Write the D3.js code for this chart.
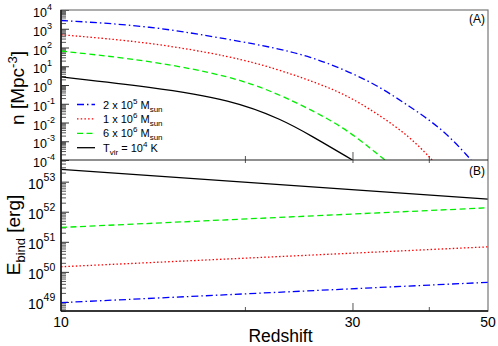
<!DOCTYPE html>
<html lang="en">
<head>
<meta charset="UTF-8" />
<title>Halo abundance and binding energy</title>
<script src="https://cdn.jsdelivr.net/npm/d3@7"></script>
<style>
  body { margin: 0; background: #fff; }
  svg { display: block; font-family: "Liberation Sans", Arial, sans-serif; }
</style>
</head>
<body>
<svg width="498" height="346"></svg>
<script>
// panel A: number density n [Mpc^-3] against redshift
const zBlue = [10, 14, 19.1, 22.5, 25.6, 29, 32.9, 37.3, 42.3, 46.7, 46.9];
const nBlue = [2.75e3, 1.45e3, 2.5e2, 94, 32, 6.9, 1.0, 6.9e-2, 4.0e-3, 1.2e-4, 1.0e-4];
const zRed = [10, 14, 19.1, 22.5, 25.6, 29, 32.9, 37.3, 40.5];
const nRed = [4.8e2, 1.9e2, 32, 7.3, 1.7, 0.36, 3.1e-2, 1.7e-3, 1.0e-4];
const zGreen = [10, 14, 19.1, 22.5, 25.6, 29, 32.1, 33.9];
const nGreen = [65, 20, 2.8, 0.37, 5.0e-2, 5.5e-3, 4.2e-4, 1.0e-4];
const zBlack = [10, 14, 19.1, 23.1, 25.6, 30];
const nBlack = [2.7, 0.81, 0.16, 1.35e-2, 2.1e-3, 1.0e-4];

// panel B: binding energy [erg], straight lines in log-log
const zBind = [10, 50];
const eBlue = [9.5e48, 4.5e49];
const eRed = [1.48e50, 6.8e50];
const eGreen = [3.0e51, 1.35e52];
const eBlack = [2.57e53, 2.63e52];

// tick labels
const expN = [-4, -3, -2, -1, 0, 1, 2, 3, 4];
const expE = [49, 50, 51, 52, 53];
const zLabels = [10, 30, 50];
const zMinor = [20, 40];

// legend text pieces
const legendText = [
  ["2 x 10", "5", " M", "sun"],
  ["1 x 10", "6", " M", "sun"],
  ["6 x 10", "6", " M", "sun"],
  ["T", "vir", " = 10", "4", " K"]
];

const svg = d3.select("svg");
const xLeft = 61, xRight = 488, yTop = 10, yMid = 160, yBottom = 311;

const x = d3.scaleLog().domain([10, 50]).range([xLeft, xRight]);
const yN = d3.scaleLog().domain([1e-4, 1e4]).range([yMid, yTop]);
const yE = d3.scaleLog().domain([5.0e48, 5.25e53]).range([yBottom, yMid]);

const series = [
  { z: zBlue, n: nBlue, e: eBlue, color: "#0000ff", dash: "7,3,1.5,3" },
  { z: zRed, n: nRed, e: eRed, color: "#ff0000", dash: "1.5,2.2" },
  { z: zGreen, n: nGreen, e: eGreen, color: "#00ee00", dash: "6,3.5" },
  { z: zBlack, n: nBlack, e: eBlack, color: "#000000", dash: null }
];

const defs = svg.append("defs");
defs.append("clipPath").attr("id", "clipA").append("rect")
  .attr("x", xLeft).attr("y", yTop).attr("width", xRight - xLeft).attr("height", yMid - yTop);
defs.append("clipPath").attr("id", "clipB").append("rect")
  .attr("x", xLeft).attr("y", yMid).attr("width", xRight - xLeft).attr("height", yBottom - yMid);

// y ticks (inward)
function yTicks(scale, exps) {
  const majors = exps.map(e => Math.pow(10, e));
  const minors = scale.ticks(20).filter(v => !majors.some(m => Math.abs(v / m - 1) < 1e-9));
  svg.append("g").attr("transform", `translate(${xLeft},0)`)
    .call(d3.axisLeft(scale).tickValues(minors).tickSize(-5).tickFormat(""))
    .call(g => g.select(".domain").remove())
    .selectAll("line").attr("stroke", "#555");
  svg.append("g").attr("transform", `translate(${xLeft},0)`)
    .call(d3.axisLeft(scale).tickValues(majors).tickSize(-8).tickFormat(""))
    .call(g => g.select(".domain").remove())
    .selectAll("line").attr("stroke", "#333");
}
yTicks(yN, expN);
yTicks(yE, expE);

// x ticks on each panel edge
function xTicks(axis, y, size) {
  svg.append("g").attr("transform", `translate(0,${y})`)
    .call(axis.tickSize(size).tickFormat(""))
    .call(g => g.select(".domain").remove())
    .selectAll("line").attr("stroke", "#555");
}
xTicks(d3.axisBottom(x).tickValues([30]), yMid, -8);
xTicks(d3.axisBottom(x).tickValues(zMinor), yMid, -4);
xTicks(d3.axisTop(x).tickValues(zMinor.concat([30])), yMid, -3);
xTicks(d3.axisBottom(x).tickValues([30]), yBottom, -8);
xTicks(d3.axisBottom(x).tickValues(zMinor), yBottom, -4);

// curves
const lineN = d3.line().x(d => x(d[0])).y(d => yN(d[1])).curve(d3.curveBasis);
const lineE = d3.line().x(d => x(d[0])).y(d => yE(d[1]));

svg.append("g").attr("clip-path", "url(#clipA)")
  .selectAll("path").data(series).join("path")
  .attr("d", s => lineN(s.z.map((z, i) => [z, s.n[i]])))
  .attr("fill", "none").attr("stroke", s => s.color).attr("stroke-width", 1.3)
  .attr("stroke-dasharray", s => s.dash);

svg.append("g").attr("clip-path", "url(#clipB)")
  .selectAll("path").data(series).join("path")
  .attr("d", s => lineE(zBind.map((z, i) => [z, s.e[i]])))
  .attr("fill", "none").attr("stroke", s => s.color).attr("stroke-width", 1.3)
  .attr("stroke-dasharray", s => s.dash);

// frame
svg.append("rect").attr("x", xLeft).attr("y", yTop)
  .attr("width", xRight - xLeft).attr("height", yBottom - yTop)
  .attr("fill", "none").attr("stroke", "#777").attr("stroke-width", 1.2);
svg.append("line").attr("x1", xLeft).attr("x2", xRight).attr("y1", yMid).attr("y2", yMid)
  .attr("stroke", "#222").attr("stroke-width", 1.2);
svg.append("line").attr("x1", xLeft).attr("x2", xRight).attr("y1", yBottom).attr("y2", yBottom)
  .attr("stroke", "#111").attr("stroke-width", 1.5);
svg.append("line").attr("x1", xLeft).attr("x2", xLeft).attr("y1", yTop).attr("y2", yBottom)
  .attr("stroke", "#111").attr("stroke-width", 1.5);

// power-of-ten labels, left aligned like the original
function powerLabels(scale, exps, xPos, size, supSize) {
  const t = svg.append("g").selectAll("text").data(exps).join("text")
    .attr("x", xPos).attr("y", e => scale(Math.pow(10, e)) + 7)
    .attr("font-size", size).attr("fill", "#000");
  t.append("tspan").text("10");
  t.append("tspan").attr("dy", -size * 0.55).attr("font-size", supSize).text(e => e);
}
powerLabels(yN, expN, 33, 12.5, 9);
powerLabels(yE, expE, 28, 14, 10.5);

// x labels
svg.append("g").selectAll("text").data(zLabels).join("text")
  .attr("x", d => x(d)).attr("y", 327).attr("text-anchor", "middle")
  .attr("font-size", 14).text(d => d);

svg.append("text").attr("x", (xLeft + xRight) / 2 + 6).attr("y", 341.5)
  .attr("text-anchor", "middle").attr("font-size", 17.5).text("Redshift");

// y titles
const nTitle = svg.append("text").attr("transform", "translate(24,88) rotate(-90)")
  .attr("text-anchor", "middle").attr("font-size", 19);
nTitle.append("tspan").text("n [Mpc");
nTitle.append("tspan").attr("dy", -7).attr("font-size", 13).text("-3");
nTitle.append("tspan").attr("dy", 7).text("]");

const eTitle = svg.append("text").attr("transform", "translate(20,235) rotate(-90)")
  .attr("text-anchor", "middle").attr("font-size", 19);
eTitle.append("tspan").text("E");
eTitle.append("tspan").attr("dy", 5).attr("font-size", 13).text("bind");
eTitle.append("tspan").attr("dy", -5).text(" [erg]");

// panel tags
svg.append("text").attr("x", 485).attr("y", 23).attr("text-anchor", "end")
  .attr("font-size", 12).text("(A)");
svg.append("text").attr("x", 485).attr("y", 175).attr("text-anchor", "end")
  .attr("font-size", 12).text("(B)");

// legend
const legend = svg.append("g").selectAll("g").data(series).join("g")
  .attr("transform", (s, i) => `translate(77,${104.5 + i * 14.4})`);
legend.append("line").attr("x1", 0).attr("x2", 18)
  .attr("stroke", s => s.color).attr("stroke-width", 1.3)
  .attr("stroke-dasharray", s => s.dash);
legend.append("text").attr("x", 26).attr("y", 4).attr("font-size", 11)
  .each(function (s, i) {
    const p = legendText[i];
    const t = d3.select(this);
    if (i < 3) {
      t.append("tspan").text(p[0]);
      t.append("tspan").attr("dy", -5).attr("font-size", 8).text(p[1]);
      t.append("tspan").attr("dy", 5).text(p[2]);
      t.append("tspan").attr("dy", 3).attr("font-size", 8).text(p[3]);
    } else {
      t.append("tspan").text(p[0]);
      t.append("tspan").attr("dy", 3).attr("font-size", 8).text(p[1]);
      t.append("tspan").attr("dy", -3).text(p[2]);
      t.append("tspan").attr("dy", -5).attr("font-size", 8).text(p[3]);
      t.append("tspan").attr("dy", 5).text(p[4]);
    }
  });
</script>
</body>
</html>
